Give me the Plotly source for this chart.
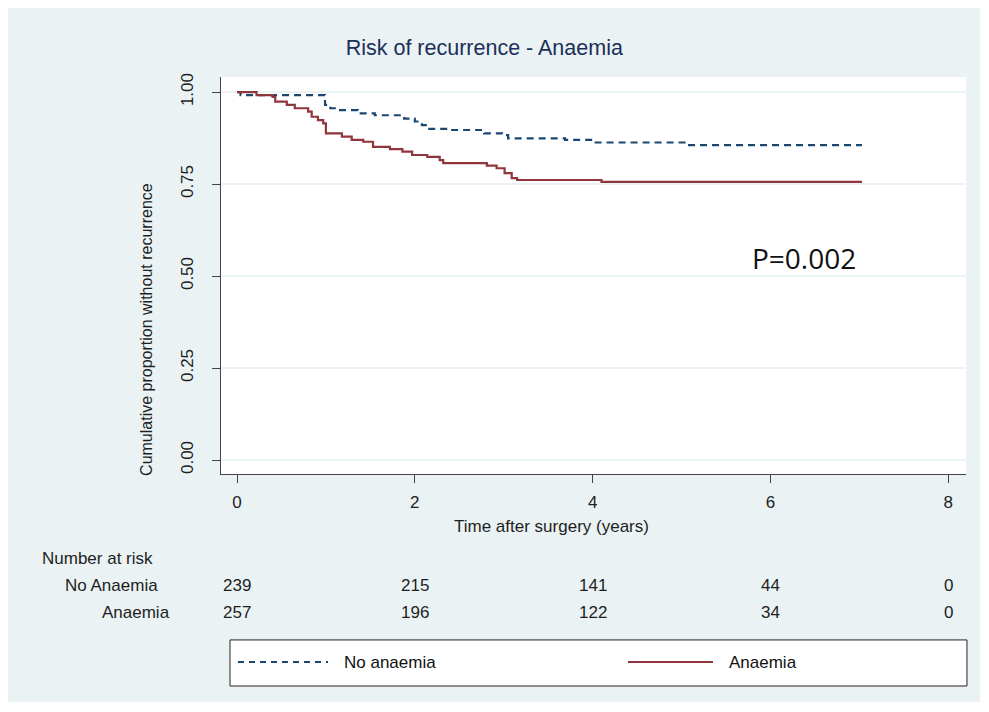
import plotly.graph_objects as go

# ---- data ----
t_no = [0, 0.04, 0.99, 1.05, 1.14, 1.36, 1.55, 1.88, 2.0, 2.08, 2.15, 2.4, 2.78, 2.98, 3.05, 3.69, 4.0, 5.07, 7.03]
s_no = [1.0, 0.992, 0.965, 0.956, 0.951, 0.942, 0.937, 0.928, 0.92, 0.91, 0.90, 0.897, 0.888, 0.883, 0.874, 0.87, 0.863, 0.856, 0.856]

t_an = [0, 0.22, 0.4, 0.43, 0.56, 0.65, 0.8, 0.84, 0.91, 0.97, 1.0, 1.18, 1.29, 1.42, 1.53, 1.72, 1.86, 1.97,
        2.14, 2.28, 2.32, 2.81, 2.92, 3.01, 3.09, 3.15, 4.1, 7.03]
s_an = [1.0, 0.992, 0.987, 0.974, 0.965, 0.956, 0.947, 0.933, 0.924, 0.915, 0.888, 0.879, 0.87, 0.865, 0.851, 0.845,
        0.838, 0.829, 0.824, 0.815, 0.807, 0.80, 0.793, 0.78, 0.766, 0.761, 0.756, 0.756]

risk_times = [0, 2, 4, 6, 8]
risk_no = [239, 215, 141, 44, 0]
risk_an = [257, 196, 122, 34, 0]

x_ticks = [0, 2, 4, 6, 8]
y_ticks = [0, 0.25, 0.5, 0.75, 1.0]
y_ticklabels = ["0.00", "0.25", "0.50", "0.75", "1.00"]

NAVY = "#1a476f"
MAROON = "#90353b"
BG = "#eaf2f3"
FONT = "Liberation Sans, Arial, sans-serif"
TXT = "#1e1e1e"

fig = go.Figure()
fig.add_trace(go.Scatter(x=t_no, y=s_no, mode="lines", line_shape="hv", name="No anaemia",
                         line=dict(color=NAVY, width=2.2, dash="7px,5px")))
fig.add_trace(go.Scatter(x=t_an, y=s_an, mode="lines", line_shape="hv", name="Anaemia",
                         line=dict(color=MAROON, width=2.2)))

ann = []
# number at risk
ann.append(dict(text="Number at risk", x=-0.243, y=-0.2116, xref="paper", yref="paper",
                xanchor="left", yanchor="middle", showarrow=False, font=dict(size=17, color=TXT)))
ann.append(dict(text="No Anaemia", x=-0.0819, y=-0.282, xref="paper", yref="paper",
                xanchor="right", yanchor="middle", showarrow=False, font=dict(size=17, color=TXT)))
ann.append(dict(text="Anaemia", x=-0.0658, y=-0.350, xref="paper", yref="paper",
                xanchor="right", yanchor="middle", showarrow=False, font=dict(size=17, color=TXT)))
for t, a, b in zip(risk_times, risk_no, risk_an):
    ann.append(dict(text=str(a), x=t, y=-0.282, xref="x", yref="paper", xanchor="center",
                    yanchor="middle", showarrow=False, font=dict(size=17, color=TXT)))
    ann.append(dict(text=str(b), x=t, y=-0.350, xref="x", yref="paper", xanchor="center",
                    yanchor="middle", showarrow=False, font=dict(size=17, color=TXT)))

# axis titles
ann.append(dict(text="Cumulative proportion without recurrence", x=-0.0993, y=0.363, xref="paper", yref="paper",
                textangle=-90, xanchor="center", yanchor="middle", showarrow=False, font=dict(size=16, color=TXT)))
ann.append(dict(text="Time after surgery (years)", x=0.443, y=-0.131, xref="paper", yref="paper",
                xanchor="center", yanchor="middle", showarrow=False, font=dict(size=17, color=TXT)))

# p-value
ann.append(dict(text="P=0.002", x=6.38, y=0.549, xref="x", yref="y", xanchor="center", yanchor="middle",
                showarrow=False, font=dict(size=28, color="#111", family="Open Sans, sans-serif")))

# legend (drawn)
ann.append(dict(text="No anaemia", x=0.1624, y=-0.4736, xref="paper", yref="paper", xanchor="left",
                yanchor="middle", showarrow=False, font=dict(size=17, color="#111")))
ann.append(dict(text="Anaemia", x=0.679, y=-0.4736, xref="paper", yref="paper", xanchor="left",
                yanchor="middle", showarrow=False, font=dict(size=17, color="#111")))

shapes = [
    dict(type="rect", xref="paper", yref="paper", x0=0.0121, x1=1.0013, y0=-0.534, y1=-0.418,
         line=dict(color="#222", width=1), fillcolor="white", layer="below"),
    dict(type="line", xref="paper", yref="paper", x0=0.0228, x1=0.1436, y0=-0.4736, y1=-0.4736,
         line=dict(color=NAVY, width=1.8, dash="6px,5px")),
    dict(type="line", xref="paper", yref="paper", x0=0.5463, x1=0.6604, y0=-0.4736, y1=-0.4736,
         line=dict(color=MAROON, width=1.8)),
]

W, H = 972, 694
fig.update_layout(
    width=W, height=H,
    margin=dict(l=213, r=14, t=69, b=228),
    paper_bgcolor=BG, plot_bgcolor="white",
    font=dict(family=FONT, size=16, color=TXT),
    showlegend=False,
    title=dict(text="Risk of recurrence - Anaemia", x=0.49, xanchor="center", y=1 - 39 / H, yanchor="middle",
               font=dict(size=21.5, color="#1c2f5a")),
    annotations=ann, shapes=shapes,
)
fig.update_xaxes(range=[-0.18, 8.2], tickvals=x_ticks, ticks="outside", ticklen=8, tickcolor="#444",
                 showline=True, linecolor="#444", linewidth=1, showgrid=False, zeroline=False,
                 tickfont=dict(size=17), ticklabelstandoff=5)
fig.update_yaxes(range=[-0.038, 1.041], tickvals=y_ticks, ticktext=y_ticklabels, tickangle=-90,
                 ticks="outside", ticklen=8, tickcolor="#444", showline=True, linecolor="#444", linewidth=1,
                 showgrid=True, gridcolor=BG, gridwidth=1.5, zeroline=False, tickfont=dict(size=17),
                 ticklabelstandoff=12)

fig.write_html("out.html")
